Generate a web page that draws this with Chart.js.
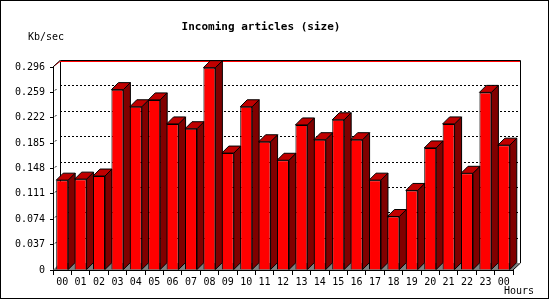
<!DOCTYPE html>
<html>
<head>
<meta charset="utf-8">
<script src="https://cdn.jsdelivr.net/npm/chart.js@4"></script>
<style>
  body { margin: 0; background: #fff; }
  canvas { display: block; }
</style>
</head>
<body>
<canvas id="sizeChart" width="550" height="300"></canvas>
<script>
const hours = ['00', '01', '02', '03', '04', '05', '06', '07', '08', '09', '10', '11',
  '12', '13', '14', '15', '16', '17', '18', '19', '20', '21', '22', '23', '00'];
const sizes = [0.131, 0.1325, 0.137, 0.263, 0.238, 0.248, 0.213, 0.206, 0.295, 0.1705,
  0.238, 0.187, 0.160, 0.2115, 0.190, 0.219, 0.190, 0.131, 0.078, 0.116,
  0.178, 0.213, 0.141, 0.259, 0.182];
const yTicks = [0, 0.037, 0.074, 0.111, 0.148, 0.185, 0.222, 0.259, 0.296];

const DX = 7, DY = 7; // depth of the 3d look

const mono = 'DejaVu Sans Mono';
Chart.defaults.font.family = mono;
Chart.defaults.font.size = 10;
Chart.defaults.color = '#000';

// walls, floor, grid and the side/top faces of the bars
const depth = {
  id: 'depth',
  beforeDatasetsDraw(chart) {
    const { ctx, chartArea: a, scales: { y } } = chart;
    ctx.save();

    // floor
    ctx.fillStyle = '#808080';
    ctx.beginPath();
    ctx.moveTo(a.left, a.bottom);
    ctx.lineTo(a.right, a.bottom);
    ctx.lineTo(a.right + DX, a.bottom - DY);
    ctx.lineTo(a.left + DX, a.bottom - DY);
    ctx.closePath();
    ctx.fill();

    // dotted grid on the back wall
    ctx.strokeStyle = '#000';
    ctx.lineWidth = 1;
    ctx.setLineDash([2, 2]);
    yTicks.forEach(v => {
      if (v === 0 || v === yTicks[yTicks.length - 1]) return;
      const py = Math.round(y.getPixelForValue(v) - DY) + 0.5;
      ctx.beginPath();
      ctx.moveTo(a.left + DX, py);
      ctx.lineTo(a.right + DX, py);
      ctx.stroke();
      // bit on the left wall
      ctx.beginPath();
      ctx.moveTo(a.left + 2, py + DY - 2);
      ctx.lineTo(a.left + 4, py + DY - 4);
      ctx.stroke();
    });
    ctx.setLineDash([]);

    // back wall frame
    const top = Math.round(a.top - DY) + 0.5;
    ctx.beginPath();
    ctx.moveTo(a.left + DX + 0.5, a.bottom - DY);
    ctx.lineTo(a.left + DX + 0.5, top);
    ctx.lineTo(a.right + DX + 0.5, top);
    ctx.lineTo(a.right + DX + 0.5, a.bottom - DY);
    ctx.lineTo(a.right, a.bottom);
    ctx.stroke();
    ctx.strokeStyle = '#f00';
    ctx.beginPath();
    ctx.moveTo(a.left + 1, a.top - 1);
    ctx.lineTo(a.left + DX, top + 1);
    ctx.lineTo(a.right + DX, top + 1);
    ctx.stroke();
    ctx.strokeStyle = '#000';
    ctx.beginPath();
    ctx.moveTo(a.left, a.top);
    ctx.lineTo(a.left + DX, top);
    ctx.stroke();

    // side and top faces
    chart.getDatasetMeta(0).data.forEach(bar => {
      const l = bar.x - bar.width / 2, r = bar.x + bar.width / 2;
      const t = bar.y, b = bar.base;
      ctx.fillStyle = '#800000';
      ctx.beginPath();
      ctx.moveTo(r, b);
      ctx.lineTo(r + DX, b - DY);
      ctx.lineTo(r + DX, t - DY);
      ctx.lineTo(r, t);
      ctx.closePath();
      ctx.fill();
      ctx.stroke();
      ctx.fillStyle = '#c00000';
      ctx.beginPath();
      ctx.moveTo(l, t);
      ctx.lineTo(l + DX, t - DY);
      ctx.lineTo(r + DX, t - DY);
      ctx.lineTo(r, t);
      ctx.closePath();
      ctx.fill();
      ctx.stroke();
    });
    ctx.restore();
  },
  afterDraw(chart) {
    const { ctx } = chart;
    ctx.save();
    ctx.fillStyle = '#000';
    ctx.textBaseline = 'middle';
    ctx.font = 'bold 11px ' + mono;
    ctx.textAlign = 'center';
    ctx.fillText('Incoming articles (size)', 261, 27);
    ctx.font = '10px ' + mono;
    ctx.textAlign = 'left';
    ctx.fillText('Kb/sec', 28, 37);
    ctx.fillText('Hours', 504, 291);
    ctx.strokeStyle = '#000';
    ctx.strokeRect(0.5, 0.5, 548, 298);
    ctx.restore();
  }
};

new Chart(document.getElementById('sizeChart'), {
  type: 'bar',
  data: {
    labels: hours,
    datasets: [{
      data: sizes,
      backgroundColor: '#ff0000',
      borderColor: '#000',
      borderWidth: 1,
      categoryPercentage: 1,
      barPercentage: 0.65
    }]
  },
  options: {
    responsive: false,
    animation: false,
    layout: { padding: { top: 67, right: 37, left: 0, bottom: 0 } },
    plugins: {
      legend: { display: false },
      tooltip: { enabled: false }
    },
    scales: {
      x: {
        afterFit: s => { s.height = 30; },
        grid: { drawOnChartArea: false, offset: true, tickLength: 5, color: '#000' },
        border: { color: '#000' },
        ticks: { autoSkip: false, maxRotation: 0, padding: 1 }
      },
      y: {
        min: 0,
        max: 0.296,
        afterFit: s => { s.width = 53; },
        afterBuildTicks: s => { s.ticks = yTicks.map(v => ({ value: v })); },
        grid: { drawOnChartArea: false, tickLength: 3, color: '#000' },
        border: { color: '#000' },
        ticks: {
          padding: 5,
          callback: v => v === 0 ? '0' : v.toFixed(3)
        }
      }
    }
  },
  plugins: [depth]
});
</script>
</body>
</html>
